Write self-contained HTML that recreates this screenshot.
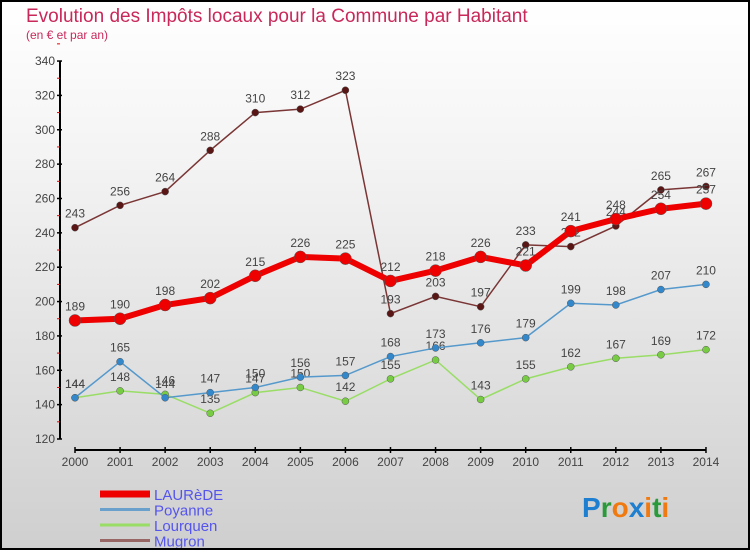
<!DOCTYPE html>
<html><head><meta charset="utf-8"><style>
html,body{margin:0;padding:0}
body{width:750px;height:550px;overflow:hidden;font-family:"Liberation Sans",sans-serif}
#c{position:absolute;left:0;top:0;width:746px;height:546px;border:2px solid #000;background:linear-gradient(#fff,#f3f3f3 30%,#cfcfcf)}
</style></head><body>
<div id="c">
<svg id="s" width="746" height="546"></svg>
</div>
<script>
const years=[2000,2001,2002,2003,2004,2005,2006,2007,2008,2009,2010,2011,2012,2013,2014];
const laurede=[189,190,198,202,215,226,225,212,218,226,221,241,248,254,257];
const poyanne=[144,165,144,147,150,156,157,168,173,176,179,199,198,207,210];
const lourquen=[144,148,146,135,147,150,142,155,166,143,155,162,167,169,172];
const mugron=[243,256,264,288,310,312,323,193,203,197,233,232,244,265,267];
const yTicks=[120,140,160,180,200,220,240,260,280,300,320,340];
const NS="http://www.w3.org/2000/svg";const s=document.getElementById('s');
const ox=-2,oy=-2;
function X(i){return 75+i*45.07+ox}
function Y(v){return 439-(v-120)*1.718+oy}
function el(t,a,txt){const e=document.createElementNS(NS,t);for(const k in a)e.setAttribute(k,a[k]);if(txt!==undefined)e.textContent=txt;s.appendChild(e);return e}
let e;
e=el('text',{x:26+ox,y:22+oy,fill:'#c8285a','font-size':19},'Evolution des Impôts locaux pour la Commune par Habitant');

e=el('text',{x:26+ox,y:39+oy,fill:'#c8285a','font-size':12},'(en € et par an)');

e=el('line',{x1:60+ox,y1:Y(340),x2:60+ox,y2:Y(120),stroke:'#000','stroke-width':2});

yTicks.forEach(v=>{
 e=el('line',{x1:57+ox,y1:Y(v),x2:62+ox,y2:Y(v),stroke:'#000','stroke-width':1.5});
 
 e=el('line',{x1:57+ox,y1:Y(v+10),x2:60+ox,y2:Y(v+10),stroke:'#e00','stroke-width':1});
 
 e=el('text',{x:55+ox,y:Y(v)+4,'text-anchor':'end','font-size':12,fill:'#444'},v);
 
});
e=el('line',{x1:X(0),y1:450+oy,x2:X(14),y2:450+oy,stroke:'#000','stroke-width':2});

years.forEach((y,i)=>{
 e=el('line',{x1:X(i),y1:447+oy,x2:X(i),y2:453+oy,stroke:'#000','stroke-width':1.5});
 
 e=el('text',{x:X(i),y:466+oy,'text-anchor':'middle','font-size':12,fill:'#444'},y);
 
});
function series(name,data,color,w,r,dot){
 const pts=data.map((v,i)=>X(i)+','+Y(v)).join(' ');
 e=el('polyline',{points:pts,fill:'none',stroke:color,'stroke-width':w});
 
 data.forEach((v,i)=>{
  e=el('circle',{cx:X(i),cy:Y(v),r:r,fill:dot,stroke:'#555','stroke-width':0.5});
  
  e=el('text',{x:X(i),y:Y(v)-10,'text-anchor':'middle','font-size':12,fill:'#444'},v);
  
 });
}
series('mugron',mugron,'#7a3535',1.5,3.5,'#5a1515');
series('lourquen',lourquen,'#99dd66',1.5,3.5,'#77cc44');
series('poyanne',poyanne,'#5599cc',1.5,3.5,'#3388cc');
series('laurede',laurede,'#ee0000',6,6,'#ee0000');
const legend=[['LAURèDE','#ee0000',7],['Poyanne','#6aa0cc',3],['Lourquen','#99dd66',3],['Mugron','#996666',3]];
legend.forEach((l,i)=>{
 const y=494+i*15.5+oy;
 e=el('line',{x1:100+ox,y1:y,x2:150+ox,y2:y,stroke:l[1],'stroke-width':l[2]});
 
 e=el('text',{x:154+ox,y:y+6,'font-size':15,fill:'#5555ee'},l[0]);
 
});
e=el('text',{x:582+ox,y:517+oy,'font-size':28,'font-weight':'bold'});

[['P','#1e7fd0'],['r','#2a9a3a'],['o','#f07a10'],['x','#1e7fd0'],['i','#f07a10'],['t','#2a9a3a'],['i','#f07a10']].forEach(c=>{const t=document.createElementNS(NS,'tspan');t.setAttribute('fill',c[1]);t.textContent=c[0];e.appendChild(t)});
</script>
</body></html>
